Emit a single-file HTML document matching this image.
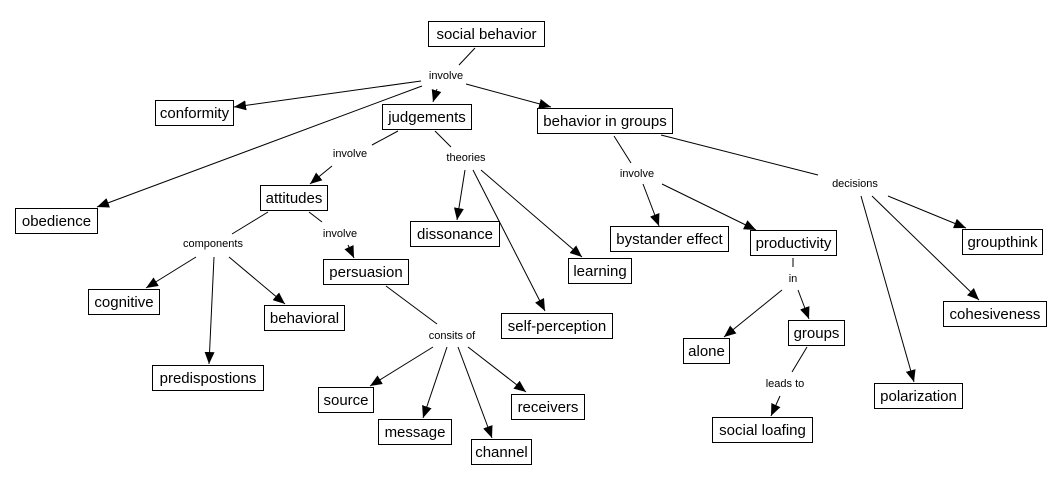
<!DOCTYPE html>
<html><head><meta charset="utf-8"><style>
html,body{margin:0;padding:0;background:#fff}
svg{display:block}
.n rect{fill:#fff;stroke:#000;stroke-width:1}
.n text{font-family:"Liberation Sans",sans-serif;font-size:15px;text-anchor:middle;fill:#000}
.l{font-family:"Liberation Sans",sans-serif;font-size:11px;text-anchor:middle;fill:#000}
line{stroke:#000;stroke-width:1}
line.a{marker-end:url(#ar)}
</style></head><body>
<svg width="1058" height="484" viewBox="0 0 1058 484" xmlns="http://www.w3.org/2000/svg">
<defs><marker id="ar" viewBox="0 0 12 10" refX="12" refY="5" markerWidth="12" markerHeight="10" markerUnits="userSpaceOnUse" orient="auto"><path d="M0,0 L12,5 L0,10 z" fill="#000"/></marker></defs>

<line x1="475" y1="48" x2="459" y2="65"/>
<line class="a" x1="421" y1="81" x2="234" y2="107"/>
<line class="a" x1="437" y1="89" x2="433" y2="102"/>
<line class="a" x1="422" y1="86" x2="97" y2="207"/>
<line class="a" x1="466" y1="84" x2="551" y2="107"/>
<line x1="398" y1="131" x2="372" y2="145"/>
<line class="a" x1="332" y1="166" x2="310" y2="184"/>
<line x1="435" y1="131" x2="451" y2="147"/>
<line class="a" x1="465" y1="170" x2="457" y2="220"/>
<line class="a" x1="473" y1="170" x2="545" y2="311"/>
<line class="a" x1="481" y1="170" x2="582" y2="257"/>
<line x1="268" y1="212" x2="232" y2="234"/>
<line class="a" x1="196" y1="257" x2="146" y2="288"/>
<line class="a" x1="214" y1="257" x2="209" y2="364"/>
<line class="a" x1="229" y1="257" x2="285" y2="304"/>
<line x1="309" y1="212" x2="322" y2="222"/>
<line class="a" x1="348" y1="245" x2="354" y2="258"/>
<line x1="386" y1="286" x2="437" y2="324"/>
<line class="a" x1="433" y1="347" x2="370" y2="386"/>
<line class="a" x1="447" y1="347" x2="423" y2="418"/>
<line class="a" x1="458" y1="347" x2="492" y2="438"/>
<line class="a" x1="468" y1="347" x2="526" y2="392"/>
<line x1="614" y1="136" x2="631" y2="163"/>
<line class="a" x1="643" y1="184" x2="659" y2="226"/>
<line class="a" x1="662" y1="184" x2="756" y2="230"/>
<line x1="661" y1="135" x2="818" y2="175"/>
<line class="a" x1="888" y1="196" x2="966" y2="228"/>
<line class="a" x1="872" y1="196" x2="979" y2="300"/>
<line class="a" x1="861" y1="196" x2="914" y2="382"/>
<line x1="793" y1="258" x2="793" y2="267"/>
<line class="a" x1="782" y1="290" x2="724" y2="337"/>
<line class="a" x1="798" y1="290" x2="809" y2="319"/>
<line x1="807" y1="347" x2="792" y2="372"/>
<line class="a" x1="780" y1="396" x2="771" y2="416"/>

<text class="l" x="446" y="79">involve</text>
<text class="l" x="350" y="157">involve</text>
<text class="l" x="466" y="161">theories</text>
<text class="l" x="213" y="247">components</text>
<text class="l" x="340" y="237">involve</text>
<text class="l" x="452" y="339">consits of</text>
<text class="l" x="637" y="177">involve</text>
<text class="l" x="855" y="187">decisions</text>
<text class="l" x="793" y="282">in</text>
<text class="l" x="785" y="387">leads to</text>

<g class="n">
<rect x="428.5" y="21.5" width="116" height="25"/><text x="486.5" y="39">social behavior</text>
<rect x="155.5" y="100.5" width="78" height="25"/><text x="194.5" y="118">conformity</text>
<rect x="382.5" y="104.5" width="89" height="25"/><text x="427" y="122">judgements</text>
<rect x="537.5" y="108.5" width="135" height="25"/><text x="605" y="126">behavior in groups</text>
<rect x="15.5" y="208.5" width="82" height="25"/><text x="56.5" y="226">obedience</text>
<rect x="260.5" y="185.5" width="67" height="25"/><text x="294" y="203">attitudes</text>
<rect x="410.5" y="221.5" width="89" height="25"/><text x="455" y="239">dissonance</text>
<rect x="610.5" y="226.5" width="118" height="25"/><text x="669.5" y="244">bystander effect</text>
<rect x="750.5" y="230.5" width="86" height="25"/><text x="793.5" y="248">productivity</text>
<rect x="962.5" y="229.5" width="80" height="25"/><text x="1002.5" y="247">groupthink</text>
<rect x="323.5" y="259.5" width="85" height="25"/><text x="366" y="277">persuasion</text>
<rect x="568.5" y="258.5" width="63" height="25"/><text x="600" y="276">learning</text>
<rect x="88.5" y="289.5" width="71" height="25"/><text x="124" y="307">cognitive</text>
<rect x="264.5" y="305.5" width="80" height="25"/><text x="304.5" y="323">behavioral</text>
<rect x="501.5" y="313.5" width="111" height="25"/><text x="557" y="331">self-perception</text>
<rect x="152.5" y="365.5" width="111" height="25"/><text x="208" y="383">predispostions</text>
<rect x="943.5" y="301.5" width="103" height="25"/><text x="995" y="319">cohesiveness</text>
<rect x="683.5" y="338.5" width="46" height="25"/><text x="706.5" y="356">alone</text>
<rect x="788.5" y="320.5" width="56" height="25"/><text x="816.5" y="338">groups</text>
<rect x="874.5" y="383.5" width="88" height="25"/><text x="918.5" y="401">polarization</text>
<rect x="318.5" y="387.5" width="55" height="25"/><text x="346" y="405">source</text>
<rect x="511.5" y="394.5" width="73" height="25"/><text x="548" y="412">receivers</text>
<rect x="378.5" y="419.5" width="73" height="25"/><text x="415" y="437">message</text>
<rect x="471.5" y="439.5" width="60" height="25"/><text x="501.5" y="457">channel</text>
<rect x="712.5" y="417.5" width="100" height="25"/><text x="762.5" y="435">social loafing</text>
</g>
</svg>
</body></html>
